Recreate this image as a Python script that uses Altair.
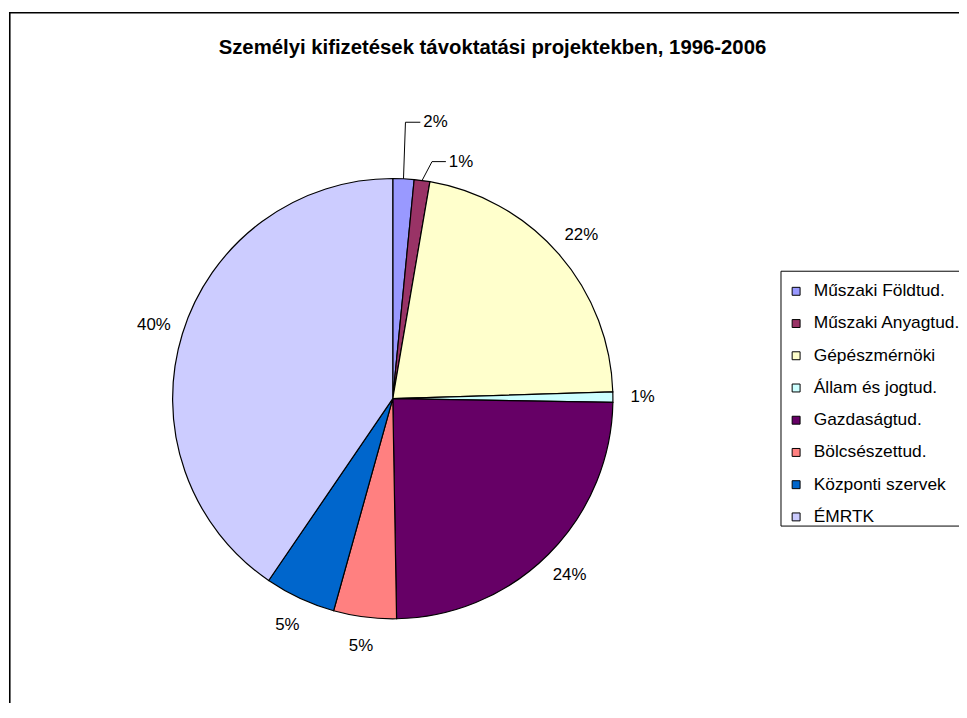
import math
import altair as alt
import pandas as pd

# ---------------- data ----------------
categories = ["Műszaki Földtud.", "Műszaki Anyagtud.", "Gépészmérnöki", "Állam és jogtud.",
              "Gazdaságtud.", "Bölcsészettud.", "Központi szervek", "ÉMRTK"]
shares = [1.55, 1.15, 21.8, 0.75, 24.45, 4.6, 5.2, 40.45]
colors = ["#9999FF", "#993366", "#FFFFCC", "#CCFFFF", "#660066", "#FF8080", "#0066CC", "#CCCCFF"]
title_text = "Személyi kifizetések távoktatási projektekben, 1996-2006"

# ---------------- layout ----------------
W, H = 959, 698
CX, CY = 388, 391          # pie centre (plot coords)
R = 222                    # pie radius
R_LABEL = 252              # radius of label centres
FONT = "Liberation Sans"
# small slices with leader lines: (elbow dx, elbow dy, horizontal tail length)
leader_layout = {"Műszaki Földtud.": (2, -57, 15), "Műszaki Anyagtud.": (10, -19, 14)}

# ---------------- table ----------------
total = sum(shares)
rows = []
cum = 0.0
for i, (c, v) in enumerate(zip(categories, shares)):
    a0 = cum / total * 2 * math.pi
    cum += v
    a1 = cum / total * 2 * math.pi
    rows.append(dict(cat=c, value=v, idx=i, a0=a0, a1=a1, mid=(a0 + a1) / 2,
                     label=f"{int(v / total * 100 + 0.5)}%"))
df = pd.DataFrame(rows)

lead_rows = []
for c, (ex, ey, tail) in leader_layout.items():
    r = df[df.cat == c].iloc[0]
    sx = CX + R * math.sin(r["mid"])
    sy = CY - R * math.cos(r["mid"])
    bx, by = sx + ex, sy + ey
    lead_rows.append(dict(cat=c, sx=sx, sy=sy, bx=bx, by=by, tx=bx + tail, lx=bx + tail + 3,
                          label=r["label"]))
lead = pd.DataFrame(lead_rows)
one = pd.DataFrame({"t": [title_text]})

color = alt.Color(
    "cat:N",
    scale=alt.Scale(domain=categories, range=colors),
    legend=alt.Legend(title=None, orient="none", legendX=786, legendY=274,
                      symbolType="square", symbolSize=64, symbolStrokeColor="black",
                      symbolStrokeWidth=1, symbolOpacity=1, labelFont=FONT, labelFontSize=17.5,
                      labelColor="black", rowPadding=13.5, labelOffset=9, padding=0,
                      labelLimit=400),
)

border_left = alt.Chart(one).mark_rule(color="black", strokeWidth=1.6).encode(
    x=alt.value(1.8), y=alt.value(1), y2=alt.value(H))
border_top = alt.Chart(one).mark_rule(color="black", strokeWidth=1.6).encode(
    x=alt.value(1), x2=alt.value(W), y=alt.value(1.8))

legend_box = alt.Chart(one).mark_rect(fill="white", stroke="black", strokeWidth=1).encode(
    x=alt.value(779.5), x2=alt.value(W + 20), y=alt.value(262.5), y2=alt.value(519.5))

title = alt.Chart(one).mark_text(font=FONT, fontSize=20.5, fontWeight="bold", color="black",
                                 align="center", baseline="middle").encode(
    x=alt.value(488.5), y=alt.value(37), text="t:N")

arcs = alt.Chart(df).mark_arc(radius=R, stroke="black", strokeWidth=1.2).encode(
    theta=alt.Theta("a0:Q", scale=None), theta2="a1:Q", color=color,
    x=alt.value(CX), y=alt.value(CY))

labels = alt.Chart(df).transform_filter(
    ~alt.FieldOneOfPredicate(field="cat", oneOf=list(leader_layout))
).mark_text(font=FONT, fontSize=17, color="black", align="center", baseline="middle").encode(
    theta=alt.Theta("mid:Q", scale=None), radius=alt.value(R_LABEL), text="label:N",
    x=alt.value(CX), y=alt.value(CY))

seg1 = alt.Chart(lead).mark_rule(color="black", strokeWidth=1).encode(
    x=alt.X("sx:Q", scale=None, axis=None), y=alt.Y("sy:Q", scale=None, axis=None),
    x2="bx:Q", y2="by:Q")
seg2 = alt.Chart(lead).mark_rule(color="black", strokeWidth=1).encode(
    x=alt.X("bx:Q", scale=None, axis=None), y=alt.Y("by:Q", scale=None, axis=None),
    x2="tx:Q", y2="by:Q")
lead_text = alt.Chart(lead).mark_text(font=FONT, fontSize=17, color="black", align="left",
                                      baseline="middle").encode(
    x=alt.X("lx:Q", scale=None, axis=None), y=alt.Y("by:Q", scale=None, axis=None),
    text="label:N")

chart = alt.layer(border_left, border_top, legend_box, title, arcs, labels, seg1, seg2,
                  lead_text).properties(
    width=W, height=H, padding=0, autosize=alt.AutoSizeParams(type="none"),
    background="white"
).configure_view(strokeWidth=0)

chart.save("out.html", embed_options={"renderer": "svg", "actions": False})
